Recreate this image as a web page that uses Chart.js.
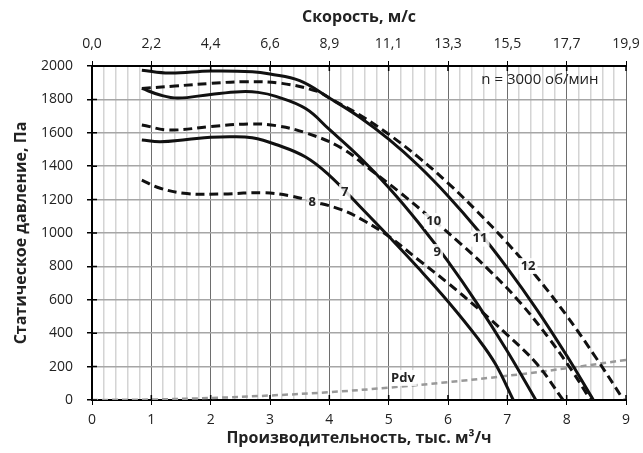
<!DOCTYPE html>
<html>
<head>
<meta charset="utf-8">
<script src="https://cdn.jsdelivr.net/npm/chart.js@4"></script>
<style>
  html, body { margin: 0; padding: 0; background: #fff; }
  #wrap { width: 643px; height: 453px; }
</style>
</head>
<body>
<div id="wrap"><canvas id="fan-chart"></canvas></div>
<script>
// air flow, thousand m3/h  /  static pressure, Pa
const flow7 = [0.84, 1.15, 1.6, 2.0, 2.35, 2.7, 3.1, 3.6, 4.0, 4.5, 5.0, 5.5, 6.0, 6.5, 6.8, 7.1];
const pres7 = [1557, 1547, 1560, 1573, 1577, 1570, 1530, 1455, 1345, 1165, 980, 790, 590, 370, 215, 0];

const flow8 = [0.84, 1.15, 1.6, 2.2, 2.9, 3.35, 3.7, 4.2, 4.6, 5.0, 5.5, 6.0, 6.5, 7.0, 7.5, 7.94];
const pres8 = [1317, 1268, 1236, 1234, 1241, 1222, 1190, 1140, 1070, 980, 840, 700, 550, 390, 215, 0];

const flow9 = [0.84, 1.15, 1.45, 2.0, 2.5, 2.8, 3.1, 3.6, 4.0, 4.5, 5.0, 5.5, 6.0, 6.5, 7.0, 7.48];
const pres9 = [1866, 1826, 1808, 1830, 1846, 1842, 1818, 1745, 1620, 1458, 1273, 1063, 830, 573, 292, 0];

const flow10 = [0.84, 1.3, 2.0, 2.65, 3.1, 3.6, 4.2, 4.7, 5.2, 5.7, 6.2, 6.7, 7.2, 7.7, 8.1, 8.4];
const pres10 = [1647, 1617, 1637, 1653, 1643, 1600, 1510, 1377, 1240, 1092, 940, 775, 590, 370, 170, 0];

const flow11 = [0.84, 1.3, 2.0, 2.7, 3.0, 3.5, 4.0, 4.5, 5.0, 5.5, 6.0, 6.5, 7.0, 7.5, 8.0, 8.45];
const pres11 = [1975, 1958, 1970, 1966, 1952, 1912, 1808, 1696, 1562, 1404, 1222, 1018, 790, 540, 266, 0];

const flow12 = [0.84, 1.4, 2.0, 2.6, 3.2, 3.8, 4.0, 4.5, 5.0, 5.5, 6.0, 6.5, 7.0, 7.5, 8.0, 8.5, 8.96];
const pres12 = [1866, 1880, 1896, 1906, 1896, 1848, 1808, 1709, 1591, 1454, 1299, 1126, 940, 735, 505, 250, 0];

// dynamic pressure line
const flowPdv = [0, 1, 2, 3, 4, 5, 6, 7, 8, 9];
const presPdv = [0, 3, 12, 27, 47, 74, 107, 145, 190, 240];

// top axis: air speed, m/s
const speedLabels = ['0,0', '2,2', '4,4', '6,6', '8,9', '11,1', '13,3', '15,5', '17,7', '19,9'];

// curve labels
const curveLabels = [
    { text: '7', x: 4.26, y: 1245 },
    { text: '8', x: 3.71, y: 1186 },
    { text: '9', x: 5.82, y: 886 },
    { text: '10', x: 5.76, y: 1072 },
    { text: '11', x: 6.54, y: 966 },
    { text: '12', x: 7.35, y: 802 },
    { text: 'Pdv', x: 5.24, y: 132 }
];
const speedNote = { text: 'n = 3000 об/мин', x: 7.55, y: 1916 };

function points(xs, ys) {
    return xs.map(function (x, i) { return { x: x, y: ys[i] }; });
}

function curve(xs, ys, dashed) {
    return {
        data: points(xs, ys),
        borderColor: '#111',
        borderWidth: 3,
        borderDash: dashed ? [9, 5] : [],
        pointRadius: 0,
        tension: 0.4,
        fill: false
    };
}

const FONT = "'Open Sans', 'DejaVu Sans', sans-serif";

const labelPlugin = {
    id: 'curveLabels',
    afterDatasetsDraw: function (chart) {
        const ctx = chart.ctx;
        const xs = chart.scales.x;
        const ys = chart.scales.y;
        const area = chart.chartArea;
        ctx.save();

        // tick marks that cross into the plot area, like the original
        ctx.strokeStyle = '#000';
        ctx.lineWidth = 1.5;
        ctx.beginPath();
        for (let v = 0; v <= 9; v++) {
            const px = xs.getPixelForValue(v);
            ctx.moveTo(px, area.bottom);
            ctx.lineTo(px, area.bottom - 5);
            ctx.moveTo(px, area.top);
            ctx.lineTo(px, area.top + 5);
        }
        for (let v = 0; v <= 2000; v += 200) {
            const py = ys.getPixelForValue(v);
            ctx.moveTo(area.left, py);
            ctx.lineTo(area.left + 5, py);
        }
        ctx.stroke();

        ctx.font = 'bold 13px ' + FONT;
        ctx.textAlign = 'center';
        ctx.textBaseline = 'middle';
        curveLabels.forEach(function (l) {
            const px = xs.getPixelForValue(l.x);
            const py = ys.getPixelForValue(l.y);
            const w = ctx.measureText(l.text).width + 4;
            ctx.fillStyle = 'rgba(255,255,255,0.85)';
            ctx.fillRect(px - w / 2, py - 8, w, 16);
            ctx.fillStyle = '#222';
            ctx.fillText(l.text, px, py);
        });
        ctx.font = '15px ' + FONT;
        ctx.fillStyle = '#222';
        ctx.fillText(speedNote.text, xs.getPixelForValue(speedNote.x), ys.getPixelForValue(speedNote.y));
        ctx.restore();
    }
};

function isInt(v) {
    return Math.abs(v - Math.round(v)) < 1e-6;
}

function noSidePad(s) {
    s.paddingLeft = 0;
    s.paddingRight = 0;
}

const config = {
    type: 'line',
    data: {
        datasets: [
            curve(flow11, pres11, false),
            curve(flow12, pres12, true),
            curve(flow9, pres9, false),
            curve(flow10, pres10, true),
            curve(flow7, pres7, false),
            curve(flow8, pres8, true),
            {
                data: points(flowPdv, presPdv),
                borderColor: '#999',
                borderWidth: 2.5,
                borderDash: [6, 4],
                pointRadius: 0,
                tension: 0.4,
                fill: false
            }
        ]
    },
    options: {
        responsive: true,
        maintainAspectRatio: false,
        animation: false,
        layout: { padding: { top: 0, right: 17, bottom: 0, left: 0 } },
        plugins: {
            legend: { display: false },
            tooltip: { enabled: false }
        },
        scales: {
            x: {
                type: 'linear',
                position: 'bottom',
                min: 0,
                max: 9,
                border: { color: '#000', width: 2 },
                grid: {
                    color: function (c) { return isInt(c.tick.value) ? '#6e6e6e' : '#d4d4d4'; },
                    lineWidth: function (c) { return isInt(c.tick.value) ? 1 : 1.5; },
                    tickColor: function (c) { return isInt(c.tick.value) ? '#000' : 'rgba(0,0,0,0)'; },
                    tickLength: 5
                },
                ticks: {
                    stepSize: 0.2,
                    autoSkip: false,
                    maxRotation: 0,
                    padding: 7,
                    color: '#222',
                    font: { family: FONT, size: 14 },
                    callback: function (v) { return isInt(v) ? String(Math.round(v)) : ''; }
                },
                title: {
                    display: true,
                    text: 'Производительность, тыс. м³/ч',
                    color: '#222',
                    font: { family: FONT, size: 16, weight: 'bold' },
                    padding: { top: 0, bottom: 5 }
                },
                afterFit: function (s) { s.height = 53; noSidePad(s); }
            },
            x2: {
                type: 'linear',
                position: 'top',
                min: 0,
                max: 9,
                border: { color: '#000', width: 2 },
                grid: { drawOnChartArea: false, tickColor: '#000', tickLength: 5 },
                ticks: {
                    stepSize: 1,
                    maxRotation: 0,
                    padding: 9,
                    color: '#222',
                    font: { family: FONT, size: 14 },
                    callback: function (v, i) { return speedLabels[i]; }
                },
                title: {
                    display: true,
                    text: 'Скорость, м/с',
                    color: '#222',
                    font: { family: FONT, size: 16, weight: 'bold' },
                    padding: { top: 8, bottom: 2 }
                },
                afterFit: function (s) { s.height = 66; noSidePad(s); }
            },
            y: {
                min: 0,
                max: 2000,
                border: { color: '#000', width: 2 },
                grid: { color: '#a6a6a6', lineWidth: 1.5, tickColor: '#000', tickLength: 5 },
                ticks: {
                    stepSize: 200,
                    padding: 14,
                    color: '#222',
                    font: { family: FONT, size: 14 },
                    callback: function (v) { return String(v); }
                },
                title: {
                    display: true,
                    text: 'Статическое давление, Па',
                    color: '#222',
                    font: { family: FONT, size: 16, weight: 'bold' },
                    padding: { top: 12, bottom: 4 }
                },
                afterFit: function (s) { s.width = 92; s.paddingTop = 0; s.paddingBottom = 0; }
            }
        }
    },
    plugins: [labelPlugin]
};

new Chart(document.getElementById('fan-chart'), config);
</script>
</body>
</html>
